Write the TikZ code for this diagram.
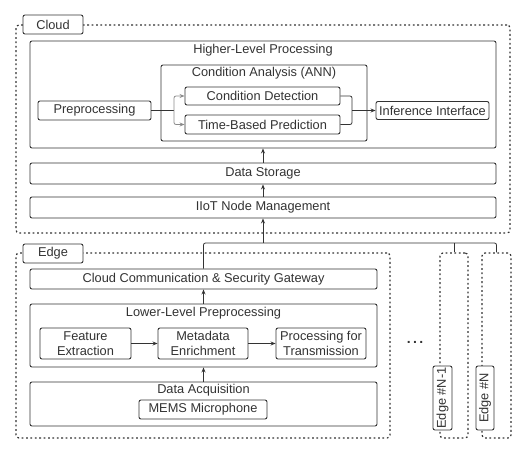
\documentclass[tikz,border=0pt]{standalone}
\usepackage{fontspec}
\setmainfont{Liberation Sans}
\usetikzlibrary{arrows.meta,calc}
\definecolor{ink}{HTML}{333333}
\definecolor{forkgray}{HTML}{8A8A8A}
\begin{document}
\begin{tikzpicture}[x=1pt,y=-1pt,
  font=\fontsize{12.8}{15}\selectfont,
  box/.style={draw=ink, line width=0.9pt, rounded corners=2pt, inner sep=0pt, text=ink, align=center, fill=white},
  region/.style={draw=ink, line width=1.2pt, dash pattern=on 1.8pt off 2.6pt, rounded corners=3pt, inner sep=0pt},
  title/.style={text=ink, inner sep=0pt},
  conn/.style={draw=ink, line width=0.8pt},
  arr/.style={conn, -{Stealth[length=5pt,width=4pt]}},
]
\useasboundingbox (0,0) rectangle (530,454);

% ---------- Cloud ----------
\node[region, minimum width=494, minimum height=208] (cloud) at (263,129) {};
\node[box, minimum width=60, minimum height=19] (cloudlbl) at (53,24.5) {Cloud};

\node[box, fill=none, minimum width=466, minimum height=107] (higher) at (263,94.5) {};
\node[title] (highertitle) at (263,50) {Higher-Level Processing};

\node[box, fill=none, minimum width=206, minimum height=76] (cond) at (264,103) {};
\node[title] (condtitle) at (264,73.5) {Condition Analysis (ANN)};

\node[box, minimum width=155, minimum height=18] (det) at (262.5,96) {Condition Detection};
\node[box, minimum width=155, minimum height=19] (tbp) at (262.5,124.5) {Time-Based Prediction};
\node[box, minimum width=113, minimum height=19] (pre) at (94.5,110.5) {Preprocessing};
\node[box, minimum width=113, minimum height=18] (inf) at (432.5,110.5) {Inference Interface};

\node[box, minimum width=466, minimum height=21] (store) at (263,173.5) {Data Storage};
\node[box, minimum width=466, minimum height=21] (iiot) at (263,207.5) {IIoT Node Management};

% cloud connectors
\coordinate (fork) at (174,110.5);
\coordinate (join) at (352,110.5);
\draw[conn] (pre.east) -- (fork);
\draw[arr, draw=forkgray, rounded corners=2pt] (fork) |- (det.west);
\draw[arr, draw=forkgray, rounded corners=2pt] (fork) |- (tbp.west);
\draw[conn, rounded corners=2pt] (det.east) -| (join);
\draw[conn, rounded corners=2pt] (tbp.east) -| (join);
\draw[arr] (join) -- (inf.west);
\draw[arr] (store.north) -- (higher.south);
\draw[arr] (iiot.north) -- (store.south);

% ---------- Edge ----------
\node[region, minimum width=374, minimum height=185] (edge) at (203,345.5) {};
\node[box, minimum width=60, minimum height=19] (edgelbl) at (53,253.5) {Edge};

\node[box, minimum width=347, minimum height=20] (gw) at (203.5,279) {Cloud Communication \& Security Gateway};

\node[box, minimum width=347, minimum height=63] (lower) at (203.5,335.5) {};
\node[title] (lowertitle) at (203.5,313) {Lower-Level Preprocessing};
\node[box, minimum width=91, minimum height=31] (feat) at (85.5,343.5) {Feature\\Extraction};
\node[box, minimum width=90, minimum height=31] (meta) at (203,343.5) {Metadata\\Enrichment};
\node[box, minimum width=90, minimum height=31] (ptx) at (321,343.5) {Processing for\\Transmission};

\node[box, minimum width=347, minimum height=44] (acq) at (203.5,404) {};
\node[title] (acqtitle) at (203.5,390) {Data Acquisition};
\node[box, minimum width=128, minimum height=19] (mems) at (203,409.5) {MEMS Microphone};

\draw[arr] (feat.east) -- (meta.west);
\draw[arr] (meta.east) -- (ptx.west);
\draw[arr] (acq.north) -- (lower.south);
\draw[arr] (lower.north) -- (gw.south);

% ---------- other edges ----------
\node[text=ink, inner sep=0pt, font=\fontsize{14}{14}\selectfont\bfseries] (dots) at (415,342) {.\,.\,.};

\node[region, minimum width=28, minimum height=185] (edgeA) at (454,345.5) {};
\node[box, rotate=90, minimum width=64, minimum height=19] (edgeAlbl) at (442.5,398) {Edge \#N-1};
\node[region, minimum width=29, minimum height=185] (edgeB) at (496.5,345.5) {};
\node[box, rotate=90, minimum width=64, minimum height=18] (edgeBlbl) at (485,398) {Edge \#N};

% bus to cloud
\coordinate (bus) at (iiot.south |- 0,243);
\draw[conn, rounded corners=2pt] (gw.north) |- ($(edgeB.north |- bus)$) -- (edgeB.north);
\draw[conn] (edgeA.north |- bus) -- (edgeA.north);
\draw[arr] (bus) -- (iiot.south);
\end{tikzpicture}
\end{document}
